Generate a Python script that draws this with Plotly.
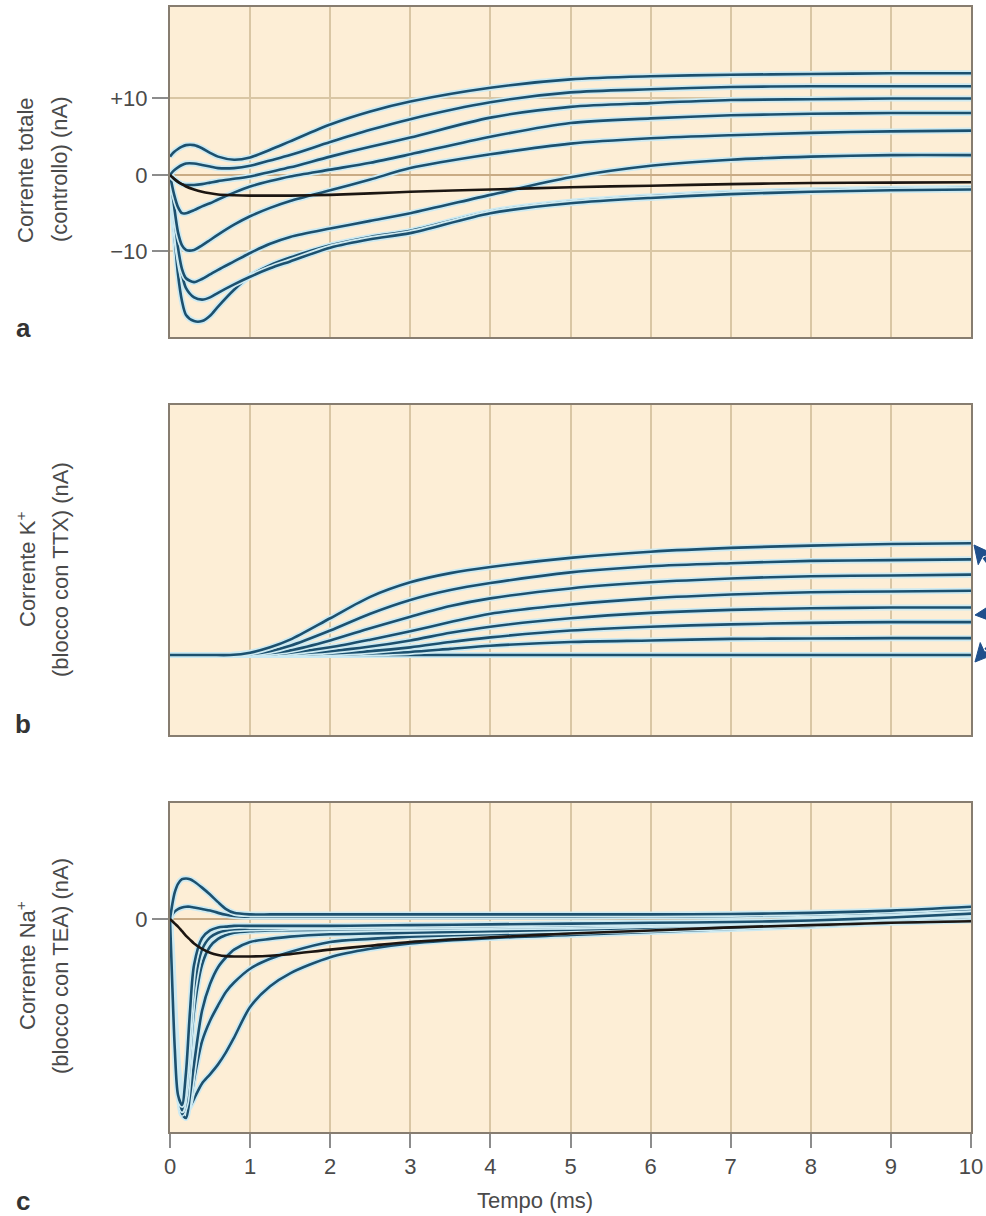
import math
import plotly.graph_objects as go

# ---------------- data (time in ms, current in nA) ----------------
# a) total current, control
t_tot = [0, 0.05, 0.1, 0.15, 0.2, 0.3, 0.4, 0.5, 0.6, 0.8, 1.0, 1.25, 1.5,
         2, 2.5, 3, 4, 5, 6, 7, 8, 9, 10]
tot_1 = [2.4, 3.0, 3.4, 3.7, 3.9, 3.9, 3.5, 2.9, 2.4, 2.0, 2.3, 3.3, 4.4,
         6.6, 8.3, 9.6, 11.4, 12.5, 12.9, 13.1, 13.2, 13.3, 13.3]
tot_2 = [0, 0.6, 1.0, 1.3, 1.5, 1.5, 1.3, 1.1, 0.9, 0.9, 1.2, 1.9, 2.6,
         4.3, 5.9, 7.3, 9.5, 10.8, 11.2, 11.5, 11.6, 11.6, 11.6]
tot_3 = [0, -0.5, -0.9, -1.2, -1.3, -1.3, -1.2, -1.0, -0.8, -0.5, -0.2, 0.4, 1.0,
         2.4, 3.7, 4.9, 7.5, 8.9, 9.4, 9.8, 9.9, 10.0, 10.0]
tot_4 = [0, -2.5, -4.2, -5.0, -5.0, -4.6, -4.1, -3.7, -3.2, -2.3, -1.5, -0.8, -0.2,
         0.7, 1.6, 2.7, 5.0, 6.8, 7.4, 7.8, 8.0, 8.1, 8.1]
tot_5 = [0, -4.0, -7.5, -9.2, -9.8, -9.8, -9.2, -8.5, -7.8, -6.5, -5.4, -4.3, -3.4,
         -2.0, -0.6, 0.9, 2.7, 4.1, 4.8, 5.2, 5.5, 5.7, 5.8]
tot_6 = [0, -5.0, -9.5, -12.3, -13.5, -14.0, -13.6, -13.0, -12.4, -11.3, -10.2, -9.0, -8.1,
         -7.0, -6.0, -5.0, -2.6, -0.3, 1.2, 2.0, 2.4, 2.6, 2.6]
tot_7 = [0, -5.5, -10.0, -13.0, -14.8, -16.0, -16.3, -16.0, -15.4, -14.3, -13.3, -12.2, -11.3,
         -9.5, -8.4, -7.6, -5.0, -3.7, -3.0, -2.5, -2.2, -2.0, -1.9]
tot_8 = [0, -7.0, -13.0, -16.5, -18.3, -19.1, -19.1, -18.4, -17.2, -15.0, -13.2, -11.8, -10.8,
         -9.2, -8.1, -7.3, -4.8, -3.5, -2.8, -2.3, -2.0, -1.8, -1.7]
tot_leak = [0, -0.5, -0.9, -1.2, -1.5, -1.9, -2.2, -2.4, -2.55, -2.65, -2.7, -2.7, -2.7,
            -2.6, -2.4, -2.2, -1.9, -1.6, -1.4, -1.2, -1.05, -1.0, -0.95]

# b) K+ current (TTX block)
t_k = [0, 0.5, 0.75, 1.0, 1.25, 1.5, 2, 2.5, 3, 3.5, 4, 5, 6, 7, 8, 9, 10]
k_1 = [0, 0, 0, 0.3, 1.0, 2.0, 4.8, 7.6, 9.5, 10.7, 11.5, 12.7, 13.5, 14.0, 14.3, 14.5, 14.6]
k_2 = [0, 0, 0, 0.1, 0.5, 1.2, 3.2, 5.4, 7.2, 8.5, 9.4, 10.8, 11.6, 12.0, 12.3, 12.4, 12.5]
k_3 = [0, 0, 0, 0.05, 0.25, 0.6, 1.9, 3.5, 5.0, 6.4, 7.4, 8.7, 9.5, 10.0, 10.3, 10.4, 10.5]
k_4 = [0, 0, 0, 0, 0.1, 0.3, 1.0, 2.0, 3.1, 4.3, 5.4, 6.6, 7.4, 7.9, 8.2, 8.3, 8.4]
k_5 = [0, 0, 0, 0, 0.05, 0.15, 0.5, 1.1, 1.9, 2.9, 3.7, 4.8, 5.5, 5.9, 6.1, 6.2, 6.2]
k_6 = [0, 0, 0, 0, 0, 0.05, 0.2, 0.5, 1.0, 1.7, 2.3, 3.2, 3.7, 4.0, 4.2, 4.3, 4.3]
k_7 = [0, 0, 0, 0, 0, 0, 0.05, 0.2, 0.4, 0.8, 1.2, 1.7, 1.9, 2.1, 2.15, 2.2, 2.2]
k_8 = [0, 0, 0, 0, 0, 0, 0, 0, 0, 0, 0, 0, 0, 0, 0, 0, 0]

# c) Na+ current (TEA block)
t_na = [0, 0.03, 0.06, 0.1, 0.15, 0.2, 0.25, 0.3, 0.4, 0.5, 0.6, 0.7, 0.8,
        1.0, 1.25, 1.5, 2, 2.5, 3, 4, 5, 6, 7, 8, 9, 10]
na_1 = [0, 2.0, 3.5, 4.6, 5.2, 5.3, 5.2, 4.9, 4.1, 3.2, 2.2, 1.3, 0.8,
        0.6, 0.6, 0.6, 0.6, 0.6, 0.6, 0.6, 0.6, 0.6, 0.65, 0.8, 1.1, 1.6]
na_2 = [0, 0.6, 1.0, 1.3, 1.5, 1.6, 1.6, 1.5, 1.3, 1.1, 0.8, 0.55, 0.4,
        0.3, 0.3, 0.3, 0.3, 0.3, 0.3, 0.3, 0.3, 0.35, 0.4, 0.6, 0.9, 1.3]
na_3 = [0, -9.0, -17.0, -23.0, -24.3, -20.0, -12.0, -6.0, -2.5, -1.5, -1.1, -1.0, -0.9,
        -0.9, -0.9, -0.9, -0.9, -0.85, -0.8, -0.7, -0.6, -0.5, -0.4, -0.2, 0.2, 0.7]
na_4 = [0, -8.5, -16.5, -22.5, -25.0, -22.0, -15.0, -9.0, -4.0, -2.4, -1.8, -1.5, -1.35,
        -1.25, -1.2, -1.15, -1.1, -1.05, -1.0, -0.9, -0.8, -0.65, -0.5, -0.25, 0.15, 0.6]
na_5 = [0, -8.0, -16.0, -22.0, -25.5, -24.0, -18.0, -12.0, -6.0, -3.6, -2.6, -2.1, -1.8,
        -1.6, -1.5, -1.45, -1.4, -1.3, -1.25, -1.1, -1.0, -0.8, -0.6, -0.3, 0.1, 0.5]
na_6 = [0, -7.0, -15.0, -21.0, -25.5, -26.0, -23.0, -19.0, -12.0, -8.5, -6.3, -5.0, -4.0,
        -3.0, -2.6, -2.3, -2.0, -1.9, -1.8, -1.6, -1.4, -1.1, -0.8, -0.5, -0.1, 0.3]
na_7 = [0, -6.0, -14.0, -20.0, -25.0, -25.5, -24.0, -21.0, -16.0, -13.3, -11.3, -9.5, -8.3,
        -6.5, -5.2, -4.3, -3.0, -2.6, -2.3, -2.0, -1.7, -1.4, -1.1, -0.7, -0.3, 0.1]
na_8 = [0, -5.0, -12.0, -19.0, -24.0, -25.0, -24.5, -23.5, -21.5, -20.3, -19.0, -17.4, -15.5,
        -11.5, -8.8, -7.1, -5.0, -3.9, -3.2, -2.5, -2.1, -1.7, -1.3, -0.9, -0.5, -0.2]
na_leak = [0, -0.3, -0.6, -1.0, -1.6, -2.2, -2.7, -3.2, -3.9, -4.4, -4.7, -4.85, -4.9,
           -4.9, -4.8, -4.6, -4.0, -3.5, -3.0, -2.4, -1.9, -1.5, -1.1, -0.8, -0.5, -0.3]

x_ticks = [0, 1, 2, 3, 4, 5, 6, 7, 8, 9, 10]
tot_ticks = [-10, 0, 10]
tot_tick_text = ["\u221210", "0", "+10"]

# ---------------- style ----------------
W, H = 986, 1216
BG = "#fdeed6"
GRID = "#d9c6a4"
ZERO = "#c9ab84"
FRAME = "#877d70"
TICK = "#8c8c8c"
TEXT = "#4a4a4a"
CORE = "#1c506e"
HALO = "#cdeaf2"
DARK = "#1c1612"
ARROW = "#1f4f8c"
FONT = "Liberation Sans, Arial, sans-serif"


def px_x(p):
    return p / W


def px_y(p):
    return 1 - p / H


X_DOM = [px_x(170), px_x(971)]
DOM_A = [px_y(337), px_y(7)]
DOM_B = [px_y(735), px_y(405)]
DOM_C = [px_y(1132), px_y(803)]

fig = go.Figure()


def curve(x, y, xa, ya, dark=False):
    if not dark:
        fig.add_trace(go.Scatter(
            x=x, y=y, mode="lines", xaxis=xa, yaxis=ya,
            line=dict(color=HALO, width=6, shape="spline", smoothing=0.8),
            hoverinfo="skip", showlegend=False))
    fig.add_trace(go.Scatter(
        x=x, y=y, mode="lines", xaxis=xa, yaxis=ya,
        line=dict(color=DARK if dark else CORE, width=2.6,
                  shape="spline", smoothing=0.8),
        hoverinfo="skip", showlegend=False))


for s in [tot_8, tot_7, tot_6, tot_5, tot_4, tot_3, tot_2, tot_1]:
    curve(t_tot, s, "x", "y")
curve(t_tot, tot_leak, "x", "y", dark=True)

for s in [k_8, k_7, k_6, k_5, k_4, k_3, k_2, k_1]:
    curve(t_k, s, "x2", "y2")

for s in [na_8, na_7, na_6, na_5, na_4, na_3, na_2, na_1]:
    curve(t_na, s, "x3", "y3")
curve(t_na, na_leak, "x3", "y3", dark=True)

frame = dict(showline=True, mirror=True, linecolor=FRAME, linewidth=2,
             automargin=False)
xgrid = dict(range=[0, 10], tickvals=x_ticks, showgrid=True, gridcolor=GRID,
             gridwidth=1.5, zeroline=False, domain=X_DOM, **frame)

fig.update_layout(
    width=W, height=H,
    margin=dict(l=0, r=0, t=0, b=0, autoexpand=False),
    paper_bgcolor="white", plot_bgcolor=BG,
    font=dict(family=FONT, color=TEXT, size=22),
    showlegend=False,
    xaxis=dict(anchor="y", showticklabels=False, ticks="", **xgrid),
    xaxis2=dict(anchor="y2", showticklabels=False, ticks="", **xgrid),
    xaxis3=dict(anchor="y3", showticklabels=True, ticks="outside", ticklen=14,
                tickwidth=2, tickcolor=TICK, tickfont=dict(size=22, color=TEXT),
                **xgrid),
    yaxis=dict(anchor="x", domain=DOM_A, range=[-21.18, 21.96],
               tickvals=tot_ticks, ticktext=tot_tick_text, ticks="outside",
               ticklen=16, tickwidth=2, tickcolor=TICK,
               tickfont=dict(size=22, color=TEXT),
               showgrid=True, gridcolor=GRID, gridwidth=1.5,
               zeroline=True, zerolinecolor=ZERO, zerolinewidth=2, **frame),
    yaxis2=dict(anchor="x2", domain=DOM_B, range=[-10.46, 32.68],
                showticklabels=False, ticks="", showgrid=False,
                zeroline=False, **frame),
    yaxis3=dict(anchor="x3", domain=DOM_C, range=[-27.84, 15.16],
                tickvals=[0], ticktext=["0"], ticks="outside", ticklen=16,
                tickwidth=2, tickcolor=TICK, tickfont=dict(size=22, color=TEXT),
                showgrid=False, zeroline=True, zerolinecolor=ZERO,
                zerolinewidth=2, **frame),
)

ann = []


def label(text, x, y, size=22, angle=0, bold=False):
    ann.append(dict(
        text=f"<b>{text}</b>" if bold else text, x=px_x(x), y=px_y(y),
        xref="paper", yref="paper", showarrow=False, textangle=angle,
        xanchor="center", yanchor="middle",
        font=dict(family=FONT, size=size, color="#333333" if bold else TEXT)))


# axis titles (two rotated lines each)
label("Corrente totale", 26, 170, angle=-90)
label("(controllo) (nA)", 60, 170, angle=-90)
label("Corrente K<sup>+</sup>", 26, 570, angle=-90)
label("(blocco con TTX) (nA)", 60, 570, angle=-90)
label("Corrente Na<sup>+</sup>", 26, 966, angle=-90)
label("(blocco con TEA) (nA)", 60, 966, angle=-90)
label("Tempo (ms)", 535, 1200)

# panel letters
label("a", 23, 328, size=26, bold=True)
label("b", 23, 724, size=26, bold=True)
label("c", 23, 1201, size=26, bold=True)

fig.update_layout(annotations=ann)

# pointer arrows beside panel b: shaft + filled head, drawn in page pixels
shapes = []


def arrow(tip, tail, head_len=18, head_half=9, width=3.6):
    dx, dy = tip[0] - tail[0], tip[1] - tail[1]
    n = math.hypot(dx, dy)
    ux, uy = dx / n, dy / n
    bx, by = tip[0] - ux * head_len, tip[1] - uy * head_len
    px, py = -uy, ux
    shapes.append(dict(
        type="line", xref="paper", yref="paper",
        x0=px_x(tail[0]), y0=px_y(tail[1]), x1=px_x(bx + ux * 2), y1=px_y(by + uy * 2),
        line=dict(color=ARROW, width=width)))
    pts = [(tip[0], tip[1]),
           (bx + px * head_half, by + py * head_half),
           (bx + ux * 4, by + uy * 4),
           (bx - px * head_half, by - py * head_half)]
    path = "M " + " L ".join(f"{px_x(a):.5f},{px_y(b):.5f}" for a, b in pts) + " Z"
    shapes.append(dict(type="path", xref="paper", yref="paper", path=path,
                       fillcolor=ARROW, line=dict(color=ARROW, width=1)))


arrow((974, 545), (998, 575))
arrow((975, 615), (1004, 612))
arrow((975, 662), (999, 635))

fig.update_layout(shapes=shapes)

fig.write_html("out.html")
